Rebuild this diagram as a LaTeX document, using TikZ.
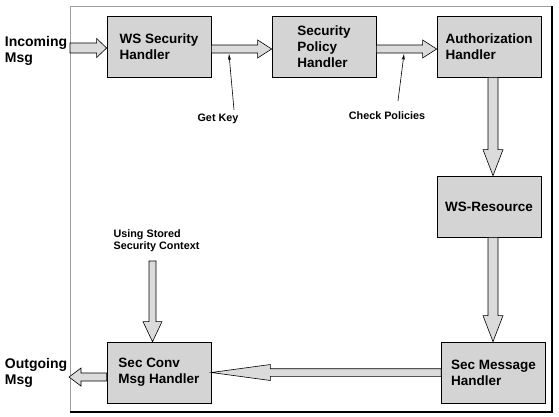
\documentclass[tikz,border=0pt]{standalone}
\usepackage{fontspec}
\setmainfont{Liberation Sans}
\usetikzlibrary{arrows.meta,calc}

\definecolor{boxgray}{gray}{0.83}
\definecolor{arrowgray}{gray}{0.86}
\definecolor{framegray}{gray}{0.62}

\tikzset{
  handler/.style={draw=black, line width=0.7pt, fill=boxgray,
    minimum width=104pt, minimum height=61pt, align=left, inner sep=2pt,
    font=\fontsize{13.5}{16}\selectfont\bfseries},
  sidelabel/.style={align=left, inner sep=0pt,
    font=\fontsize{14}{16}\selectfont\bfseries},
  note/.style={align=left, inner sep=1pt,
    font=\fontsize{10.8}{12}\selectfont\bfseries},
  leader/.style={line width=0.6pt, -{Stealth[length=6pt,width=3pt]}},
  % hollow block arrow: shaft half width / head half width / head length
  fatarrow/.style n args={3}{draw=black, line width=0.6pt, fill=arrowgray,
    line join=miter,
    to path={let \p3=($(\tikztotarget)!#3!(\tikztostart)$) in
      ($(\tikztostart)!#1!90:(\tikztotarget)$)
      -- ($(\p3)!#1!90:(\tikztotarget)$) -- ($(\p3)!#2!90:(\tikztotarget)$)
      -- (\tikztotarget)
      -- ($(\p3)!#2!-90:(\tikztotarget)$) -- ($(\p3)!#1!-90:(\tikztotarget)$)
      -- ($(\tikztostart)!#1!-90:(\tikztotarget)$) -- cycle}}
}

\begin{document}
\begin{tikzpicture}[x=1pt,y=-1pt]
  \useasboundingbox (0,0) rectangle (559,416);

  % Container frame.
  \draw[framegray, line width=0.8pt] (70,6) rectangle (552,412);
  \draw[line width=1.2pt] (552,6) -- (552,412) -- (70,412);

  % Handler chain.
  \foreach \nm/\pos/\txt in {
      wssec/{159,46.5}/{WS Security\\Handler},
      policy/{324,46.5}/{Security\\Policy\\Handler},
      authz/{489,46.5}/{Authorization\\Handler},
      wsres/{489,206.5}/{WS-Resource},
      secmsg/{493.5,372.5}/{Sec Message\\Handler},
      secconv/{159,372.5}/{Sec Conv\\Msg Handler}} {
    \node[handler] (\nm) at (\pos) {\txt};
  }

  % Outside messages and notes.
  \node[sidelabel] (incoming) at (36,51) {Incoming\\Msg};
  \node[sidelabel] (outgoing) at (36,373) {Outgoing\\Msg};
  \node[note] (getkey) at (218,119) {Get Key};
  \node[note] (check) at (387,116) {Check Policies};
  \node[note] (stored) at (156.5,241) {Using Stored\\Security Context};

  \coordinate (inStart) at (70,48);
  \coordinate (outEnd) at (69,377);
  \coordinate (storedStart) at (152.5,261);
  \coordinate (keyTip) at (229,54);
  \coordinate (checkTip) at (404,54);

  % Message flow.
  \draw[fatarrow={5pt}{9.5pt}{10pt}] (inStart) to (inStart -| wssec.west);
  \draw[fatarrow={4pt}{9pt}{14pt}]
    ([yshift=-2.5pt]wssec.east) to ([yshift=-2.5pt]policy.west);
  \draw[fatarrow={4pt}{9pt}{14pt}]
    ([yshift=-2.5pt]policy.east) to ([yshift=-2.5pt]authz.west);
  \draw[fatarrow={5pt}{10pt}{26pt}]
    ([xshift=4pt]authz.south) to ([xshift=4pt]wsres.north);
  \draw[fatarrow={5pt}{10pt}{26pt}]
    ([xshift=4pt]wsres.south) to ([xshift=-0.5pt]secmsg.north);
  \draw[fatarrow={3.8pt}{8pt}{59pt}] (secmsg.west) to (secconv.east);
  \draw[fatarrow={4pt}{9pt}{12pt}] ([yshift=-4.5pt]secconv.west) to (outEnd);
  \draw[fatarrow={3.5pt}{9.5pt}{20pt}]
    (storedStart) to (storedStart |- secconv.north);

  % Note pointers.
  \draw[leader] ([xshift=16pt,yshift=3pt]getkey.north) -- (keyTip);
  \draw[leader] ([xshift=11pt,yshift=10pt]check.north) -- (checkTip);
\end{tikzpicture}
\end{document}
